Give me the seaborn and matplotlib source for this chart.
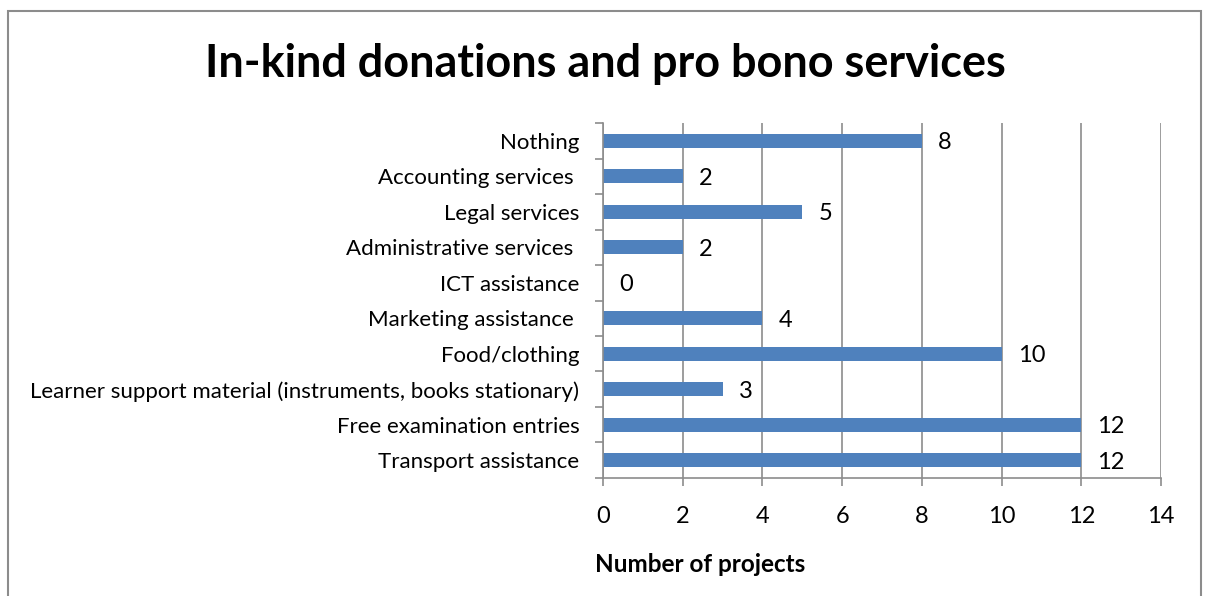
import matplotlib
matplotlib.use("Agg")
import matplotlib.pyplot as plt
from matplotlib.patches import Rectangle
import seaborn as sns
import pandas as pd
import numpy as np

categories = [
    "Nothing",
    "Accounting services ",
    "Legal services",
    "Administrative services ",
    "ICT assistance",
    "Marketing assistance ",
    "Food/clothing",
    "Learner support material (instruments, books stationary)",
    "Free examination entries",
    "Transport assistance",
]
projects = [8, 2, 5, 2, 0, 4, 10, 3, 12, 12]
x_ticks = [0, 2, 4, 6, 8, 10, 12, 14]

df = pd.DataFrame({"category": categories, "projects": projects})

sns.set_theme(style="white")
plt.rcParams["font.family"] = ["Lato", "DejaVu Sans"]

fig = plt.figure(figsize=(12.06, 5.96), dpi=100)
ax = fig.add_axes([0.5, 0.198, 0.4627, 0.5956])

bar_color = "#4F81BD"
sns.barplot(data=df, x="projects", y="category", orient="h", color=bar_color,
            width=0.4, saturation=1, linewidth=0, ax=ax, zorder=3)

ax.set_xlim(0, 14)
ax.set_ylim(len(categories) - 0.5, -0.5)
ax.set_xticks(x_ticks)
ax.set_xticklabels([str(t) for t in x_ticks], fontsize=17)
ax.set_xlabel("")
ax.set_ylabel("")

grid_col = "#8C8C8C"
ax.grid(axis="x", color=grid_col, linewidth=1.2, zorder=0)
ax.grid(axis="y", visible=False)
for side in ["top", "right"]:
    ax.spines[side].set_visible(False)
for side in ["left", "bottom"]:
    ax.spines[side].set_visible(True)
    ax.spines[side].set_color(grid_col)
    ax.spines[side].set_linewidth(1.2)
    ax.spines[side].set_zorder(5)

# Category labels without ticks; tick marks sit at the category boundaries
ax.tick_params(axis="y", which="major", left=True, length=0, pad=17, labelsize=16,
               labelcolor="black")
ax.set_yticks(np.arange(-0.5, len(categories), 1.0), minor=True)
ax.tick_params(axis="y", which="minor", left=True, length=6, width=1.2,
               color=grid_col, direction="out")
ax.tick_params(axis="x", which="major", bottom=True, length=6, width=1.2,
               color=grid_col, direction="out", pad=14, labelcolor="black")

# Value labels beyond the bar ends
for i, v in enumerate(projects):
    ax.text(v + 0.4, i + 0.06, str(v), va="center", ha="left", fontsize=17,
            color="black", zorder=4)

fig.text(700 / 1206, 1 - 564 / 596, "Number of projects", ha="center", va="center",
         fontsize=17.5, fontweight="bold", color="black")

fig.text(605 / 1206, 1 - 64 / 596, "In-kind donations and pro bono services",
         ha="center", va="center", fontsize=32.4, fontweight="bold", color="black")

# Chart frame
fig.patches.append(Rectangle((8 / 1206, -0.05), (1201 - 8) / 1206, 1 - 11 / 596 + 0.05,
                             transform=fig.transFigure, fill=False,
                             edgecolor="#8C8C8C", linewidth=1.5))

fig.savefig("out.png", dpi=100)
